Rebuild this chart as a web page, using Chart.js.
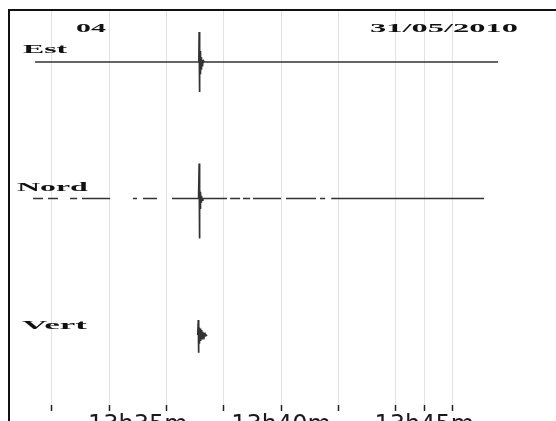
<!DOCTYPE html>
<html>
<head>
<meta charset="utf-8">
<script src="https://cdn.jsdelivr.net/npm/chart.js@4.4.1/dist/chart.umd.min.js"></script>
<style>
  html, body { margin: 0; padding: 0; background: #ffffff; }
  #wrap { width: 556px; height: 421px; position: relative; }
</style>
</head>
<body>
<div id="wrap"><canvas id="c" width="556" height="421"></canvas></div>
<script>
// Station / date header
const stationCode = '04';
const recordDate = '31/05/2010';

// Component names and their slot on the vertical axis
const components = ['Est', 'Nord', 'Vert'];
const componentSlots = [3, 2, 1];

// Time axis (minutes after 13h00)
const gridMinutes = [32, 34, 36, 38, 40, 42, 44, 45, 46];
const labelMinutes = [35, 40, 45];
const tickLabels = ['13h35m', '13h40m', '13h45m'];

// East component: time (min) and normalised amplitude
const estTimes = [31.41, 37.10, 37.13, 37.14, 37.145, 37.15, 37.153, 37.156, 37.16, 37.163, 37.166,
  37.17, 37.173, 37.176, 37.18, 37.184, 37.188, 37.192, 37.196, 37.20, 37.205, 37.21, 37.22,
  37.23, 37.24, 37.25, 37.27, 37.29, 37.32, 47.58];
const estValues = [0, 0, 0.02, 0.22, -0.22, 0.08, -0.10, 0.10, -0.11, 0.09, -0.10,
  0.08, -0.09, 0.07, -0.08, 0.06, -0.07, 0.05, -0.06, 0.045, -0.05, 0.035, -0.035,
  0.025, -0.025, 0.015, -0.012, 0.008, 0, 0];

// North component (null = no data)
const nordTimes = [31.34, 31.69, 31.78, 31.86, 32.21, 32.40, 32.63, 32.88, 32.96, 33.05, 34.03, 34.40,
  34.83, 34.97, 35.08, 35.18, 35.67, 35.90, 36.19, 37.12, 37.14, 37.145, 37.148, 37.151, 37.154,
  37.157, 37.16, 37.163, 37.166, 37.17, 37.175, 37.18, 37.185, 37.19, 37.20, 37.21, 37.22, 37.24,
  37.27, 38.11, 38.16, 38.22, 38.57, 38.62, 38.67, 38.92, 38.97, 39.02, 40.00, 40.08, 40.17,
  41.22, 41.29, 41.36, 41.54, 41.65, 41.75, 47.09];
const nordValues = [0, 0, null, 0, 0, null, 0, 0, null, 0, 0, null,
  0, 0, null, 0, 0, null, 0, 0, 0.256, -0.293, 0.16, -0.17, 0.14,
  -0.15, 0.08, -0.09, 0.07, -0.07, 0.05, -0.05, 0.04, -0.04, 0.03, -0.025, 0.02, -0.012,
  0, 0, null, 0, 0, null, 0, 0, null, 0, 0, null, 0,
  0, null, 0, 0, null, 0, 0];

// Vertical component: only the event is recorded
const vertTimes = [37.09, 37.11, 37.115, 37.12, 37.125, 37.13, 37.135, 37.14, 37.145, 37.15,
  37.16, 37.17, 37.18, 37.19, 37.20, 37.21, 37.22, 37.235, 37.25, 37.265, 37.28, 37.30,
  37.32, 37.35, 37.38, 37.42];
const vertValues = [0, 0.11, -0.13, 0.06, -0.06, 0.058, -0.058, 0.055, -0.055, 0.052,
  -0.05, 0.047, -0.045, 0.042, -0.04, 0.036, -0.034, 0.03, -0.027, 0.023, -0.02, 0.016,
  -0.012, 0.008, -0.004, 0];

const traceTimes = [estTimes, nordTimes, vertTimes];
const traceValues = [estValues, nordValues, vertValues];

const datasets = components.map((name, i) => ({
  label: name,
  data: traceTimes[i].map((t, k) => ({
    x: t,
    y: traceValues[i][k] === null ? null : componentSlots[i] + traceValues[i][k]
  })),
  borderColor: '#333333',
  borderWidth: 1.7,
  pointRadius: 0,
  tension: 0,
  spanGaps: false
}));

const SERIF = 'bold 13px "Liberation Serif", "DejaVu Serif", serif';

function stretchedText(ctx, text, x, y, sx) {
  ctx.save();
  ctx.translate(x, y);
  ctx.scale(sx, 1);
  ctx.fillText(text, 0, 0);
  ctx.restore();
}

const decorations = {
  id: 'decorations',
  afterDraw(chart) {
    const { ctx, chartArea, scales } = chart;
    ctx.save();
    // frame: top and left edges
    ctx.strokeStyle = '#111';
    ctx.lineWidth = 2;
    ctx.beginPath();
    ctx.moveTo(chart.width, chartArea.top);
    ctx.lineTo(chartArea.left, chartArea.top);
    ctx.lineTo(chartArea.left, chart.height);
    ctx.stroke();

    // header and component names
    ctx.fillStyle = '#111';
    ctx.font = SERIF;
    ctx.textBaseline = 'alphabetic';
    ctx.textAlign = 'left';
    stretchedText(ctx, stationCode, 76, 32, 2.3);
    stretchedText(ctx, recordDate, 370, 32, 2.5);
    const nameX = [23, 17, 22];
    const nameRise = [9, 7, 6];
    const nameStretch = [2.44, 2.45, 2.7];
    components.forEach((name, i) => {
      const y = scales.y.getPixelForValue(componentSlots[i]) - nameRise[i];
      stretchedText(ctx, name, nameX[i], y, nameStretch[i]);
    });

    // time labels under the axis
    ctx.font = '24px "DejaVu Sans", sans-serif';
    ctx.textAlign = 'center';
    ctx.fillStyle = '#1a1a1a';
    labelMinutes.forEach((m, i) => {
      ctx.fillText(tickLabels[i], scales.x.getPixelForValue(m), 432);
    });
    ctx.restore();
  }
};

new Chart(document.getElementById('c'), {
  type: 'line',
  data: { datasets },
  options: {
    responsive: false,
    animation: false,
    layout: { padding: { left: 9, top: 10, right: 0, bottom: 0 } },
    plugins: { legend: { display: false }, tooltip: { enabled: false } },
    scales: {
      x: {
        type: 'linear',
        min: 30.50,
        max: 49.60,
        afterBuildTicks: (scale) => { scale.ticks = gridMinutes.map(v => ({ value: v })); },
        afterFit: (scale) => { scale.height = 16; },
        border: { display: false },
        grid: { color: '#e2e2e2', lineWidth: 1, drawTicks: true, tickLength: 6, tickColor: '#222', tickWidth: 1.5 },
        ticks: { display: false }
      },
      y: {
        display: false,
        min: 0.487,
        max: 3.381
      }
    }
  },
  plugins: [decorations]
});
</script>
</body>
</html>
